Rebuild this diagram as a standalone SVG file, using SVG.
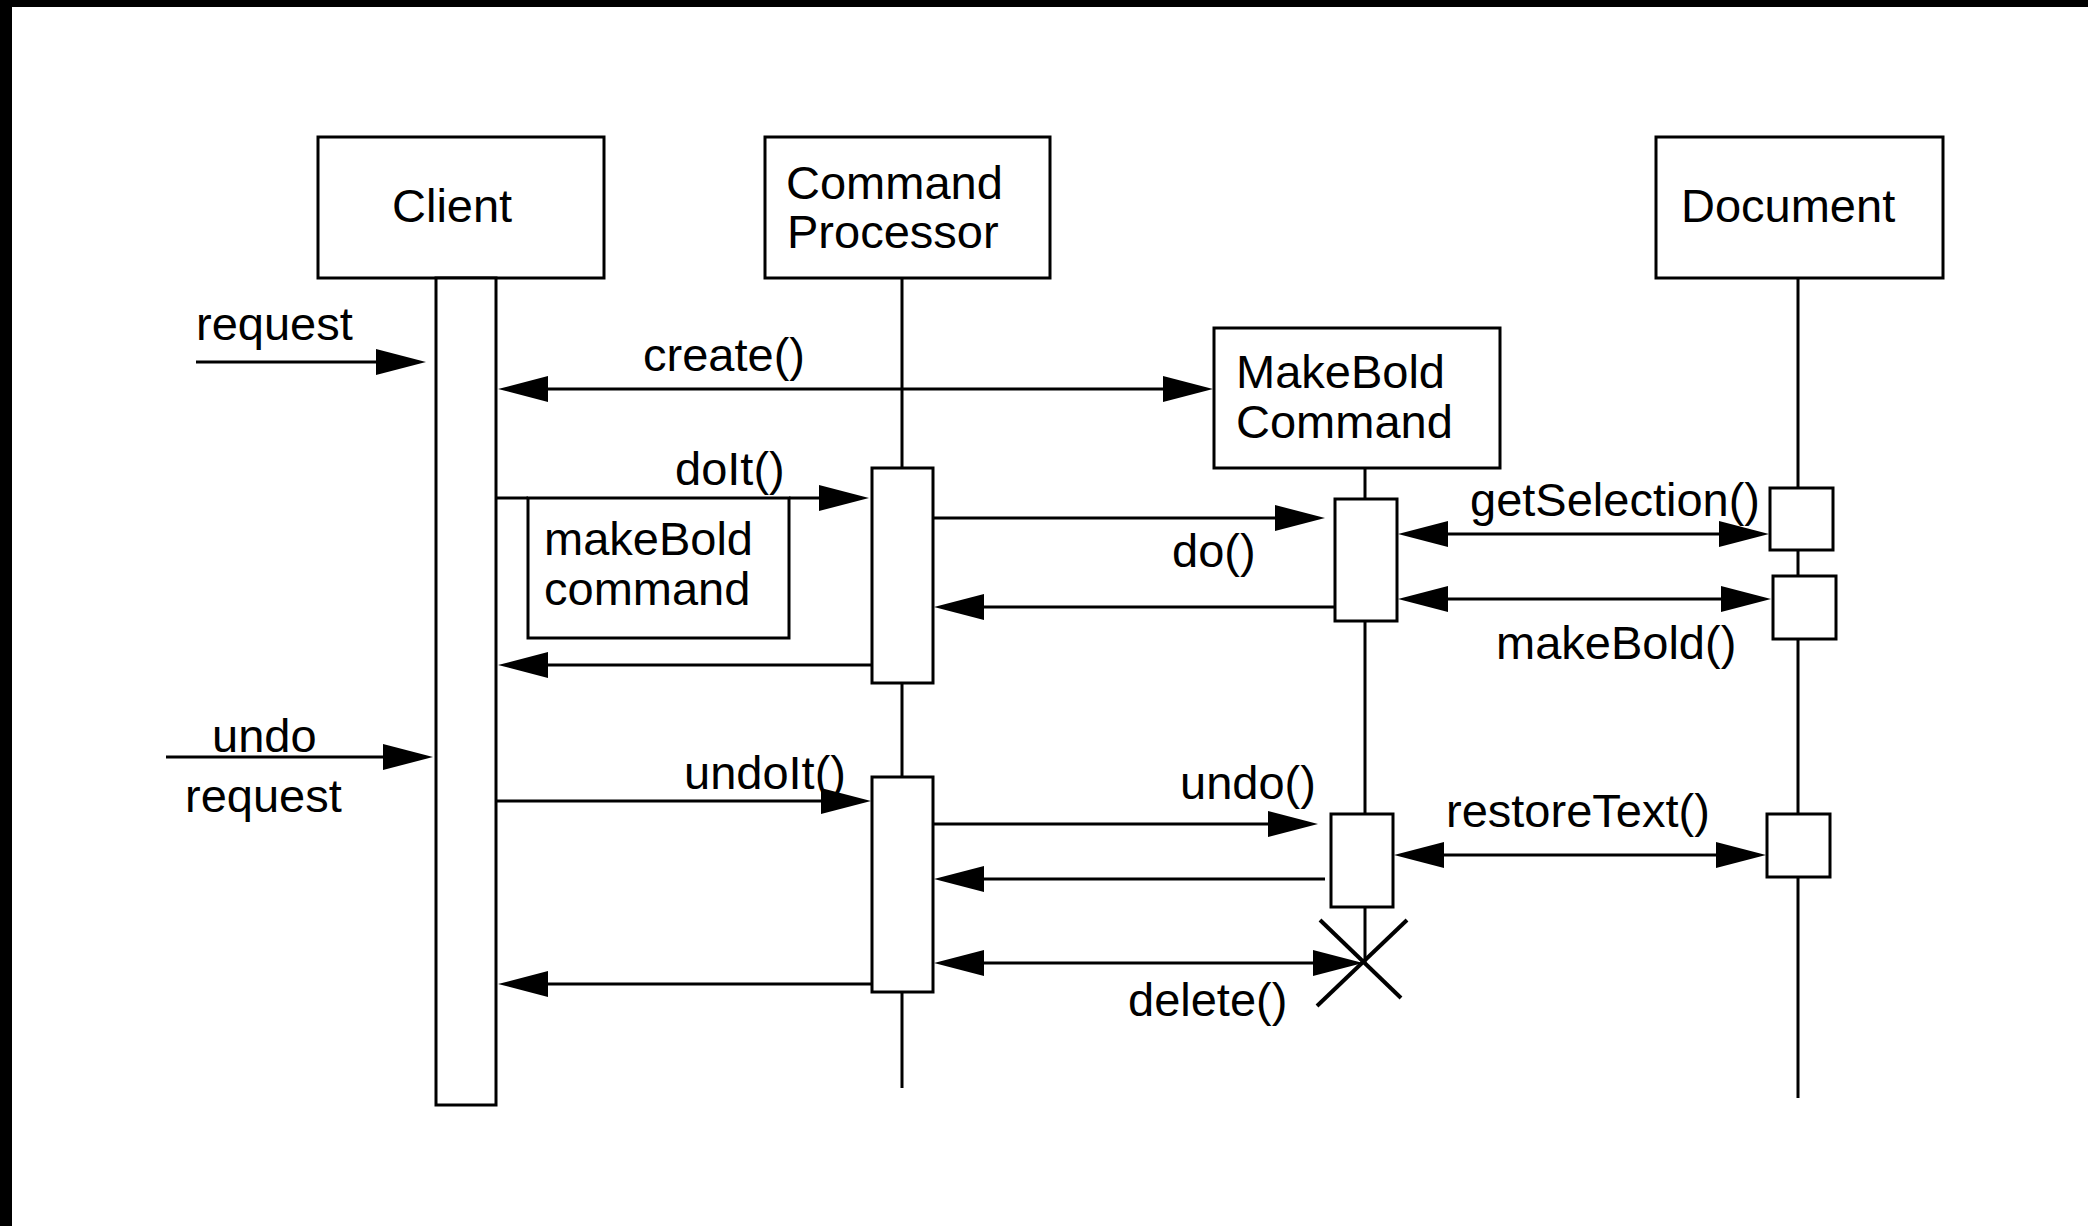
<svg xmlns="http://www.w3.org/2000/svg" width="2088" height="1226" viewBox="0 0 2088 1226">
<style>
.box{fill:#fff;stroke:#000;stroke-width:3}
.life{stroke:#000;stroke-width:3;fill:none}
.msg{stroke:#000;stroke-width:3;fill:none}
.one{marker-end:url(#ah)}
.two{marker-start:url(#ah);marker-end:url(#ah)}
text{font-family:"Liberation Sans",Arial,Helvetica,sans-serif;font-size:47px;fill:#000}
</style>
<defs>
<marker id="ah" markerUnits="userSpaceOnUse" markerWidth="50" markerHeight="28" viewBox="0 0 50 28" refX="40" refY="14" orient="auto-start-reverse">
<path d="M0,1 L50,14 L0,27 Z" fill="#000"/>
</marker>
</defs>
<rect x="0" y="0" width="2088" height="1226" fill="#fff"/>
<rect x="0" y="0" width="2088" height="7" fill="#000"/>
<rect x="0" y="0" width="12" height="1226" fill="#000"/>

<g id="lifelines">
<line class="life" x1="902" y1="278" x2="902" y2="1088"/>
<line class="life" x1="1365" y1="468" x2="1365" y2="963"/>
<line class="life" x1="1798" y1="278" x2="1798" y2="1098"/>
</g>

<g id="client">
<rect class="box" x="318" y="137" width="286" height="141"/>
<text x="392" y="222">Client</text>
<rect class="box" x="436" y="278" width="60" height="827"/>
</g>

<g id="commandProcessor">
<rect class="box" x="765" y="137" width="285" height="141"/>
<text x="786" y="199">Command</text>
<text x="787" y="248">Processor</text>
<rect class="box" x="872" y="468" width="61" height="215"/>
<rect class="box" x="872" y="777" width="61" height="215"/>
</g>

<g id="makeBoldCommand">
<rect class="box" x="1214" y="328" width="286" height="140"/>
<text x="1236" y="388">MakeBold</text>
<text x="1236" y="438">Command</text>
<rect class="box" x="1335" y="499" width="62" height="122"/>
<rect class="box" x="1331" y="814" width="62" height="93"/>
</g>

<g id="destroy">
<line x1="1320" y1="920" x2="1401" y2="998" stroke="#000" stroke-width="4"/>
<line x1="1407" y1="920" x2="1317" y2="1006" stroke="#000" stroke-width="4"/>
</g>

<g id="document">
<rect class="box" x="1656" y="137" width="287" height="141"/>
<text x="1681" y="222">Document</text>
<rect class="box" x="1770" y="488" width="63" height="62"/>
<rect class="box" x="1773" y="576" width="63" height="63"/>
<rect class="box" x="1767" y="814" width="63" height="63"/>
</g>

<g id="makeBoldNote">
<rect class="box" x="528" y="498" width="261" height="140"/>
<text x="544" y="555">makeBold</text>
<text x="544" y="605">command</text>
</g>

<g id="connectors">
<line class="msg one" x1="196" y1="362" x2="416" y2="362"/>
<line class="msg two" x1="508" y1="389" x2="1203" y2="389"/>
<line class="msg" x1="497" y1="498" x2="528" y2="498"/>
<line class="msg one" x1="789" y1="498" x2="859" y2="498"/>
<line class="msg one" x1="872" y1="665" x2="508" y2="665"/>
<line class="msg one" x1="933" y1="518" x2="1315" y2="518"/>
<line class="msg one" x1="1335" y1="607" x2="944" y2="607"/>
<line class="msg two" x1="1408" y1="534" x2="1759" y2="534"/>
<line class="msg two" x1="1408" y1="599" x2="1761" y2="599"/>
<line class="msg one" x1="166" y1="757" x2="423" y2="757"/>
<line class="msg one" x1="497" y1="801" x2="861" y2="801"/>
<line class="msg one" x1="933" y1="824" x2="1308" y2="824"/>
<line class="msg one" x1="1325" y1="879" x2="944" y2="879"/>
<line class="msg two" x1="1404" y1="855" x2="1756" y2="855"/>
<line class="msg two" x1="944" y1="963" x2="1353" y2="963"/>
<line class="msg one" x1="872" y1="984" x2="508" y2="984"/>
</g>

<g id="labels">
<text x="196" y="340">request</text>
<text x="643" y="371">create()</text>
<text x="675" y="485">doIt()</text>
<text x="1172" y="567">do()</text>
<text x="1470" y="516">getSelection()</text>
<text x="1496" y="659">makeBold()</text>
<text x="212" y="752">undo</text>
<text x="185" y="812">request</text>
<text x="684" y="789">undoIt()</text>
<text x="1180" y="799">undo()</text>
<text x="1446" y="827">restoreText()</text>
<text x="1128" y="1016">delete()</text>
</g>
</svg>
